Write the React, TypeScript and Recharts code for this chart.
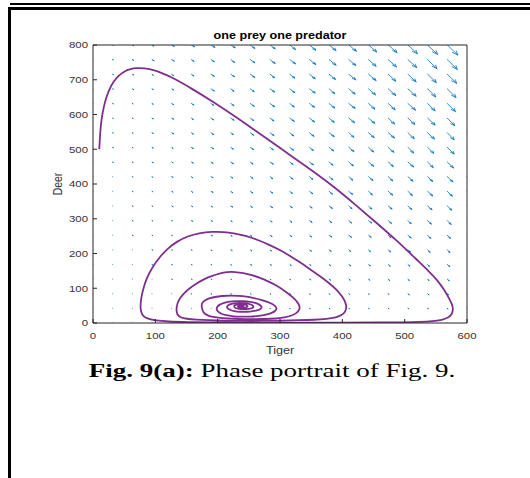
import React from 'react';
import { ComposedChart, Line, XAxis, YAxis, Label } from 'recharts';

// grid where the direction field is sampled
const TIGER_GRID = [0, 31.6, 63.2, 94.7, 126.3, 157.9, 189.5, 221.1, 252.6, 284.2, 315.8, 347.4, 378.9, 410.5, 442.1, 473.7, 505.3, 536.8, 568.4, 600];
const DEER_GRID = [0, 42.1, 84.2, 126.3, 168.4, 210.5, 252.6, 294.7, 336.8, 378.9, 421.1, 463.2, 505.3, 547.4, 589.5, 631.6, 673.7, 715.8, 757.9, 800];

// arrow growth in tigers, one row per DEER_GRID entry
const FLOW_TIGER = [
  [0, 0, 0, 0, 0, 0, 0, 0, 0, 0, 0, 0, 0, 0, 0, 0, 0, 0, 0, 0],
  [0, 0, 0, 0, 0, 0, 0, 0, 0, 0, 0, 1, 1, 1, 1, 1, 1, 1, 1, 1],
  [0, 0, 0, 0, 0, 0, 1, 1, 1, 1, 1, 1, 1, 1, 1, 1, 2, 2, 2, 2],
  [0, 0, 0, 0, 1, 1, 1, 1, 1, 1, 1, 2, 2, 2, 2, 2, 2, 2, 3, 3],
  [0, 0, 0, 1, 1, 1, 1, 1, 2, 2, 2, 2, 2, 3, 3, 3, 3, 3, 4, 4],
  [0, 0, 0, 1, 1, 1, 1, 2, 2, 2, 2, 3, 3, 3, 3, 4, 4, 4, 4, 5],
  [0, 0, 1, 1, 1, 1, 2, 2, 2, 3, 3, 3, 4, 4, 4, 4, 5, 5, 5, 6],
  [0, 0, 1, 1, 1, 2, 2, 2, 3, 3, 3, 4, 4, 4, 5, 5, 5, 6, 6, 7],
  [0, 0, 1, 1, 2, 2, 2, 3, 3, 4, 4, 4, 5, 5, 5, 6, 6, 7, 7, 7],
  [0, 0, 1, 1, 2, 2, 3, 3, 4, 4, 4, 5, 5, 6, 6, 7, 7, 8, 8, 8],
  [0, 0, 1, 1, 2, 2, 3, 3, 4, 4, 5, 5, 6, 6, 7, 7, 8, 8, 9, 9],
  [0, 1, 1, 2, 2, 3, 3, 4, 4, 5, 5, 6, 6, 7, 8, 8, 9, 9, 10, 10],
  [0, 1, 1, 2, 2, 3, 4, 4, 5, 5, 6, 6, 7, 8, 8, 9, 9, 10, 11, 11],
  [0, 1, 1, 2, 3, 3, 4, 4, 5, 6, 6, 7, 8, 8, 9, 10, 10, 11, 11, 12],
  [0, 1, 1, 2, 3, 3, 4, 5, 5, 6, 7, 8, 8, 9, 10, 10, 11, 12, 12, 13],
  [0, 1, 1, 2, 3, 4, 4, 5, 6, 7, 7, 8, 9, 10, 10, 11, 12, 12, 13, 14],
  [0, 1, 2, 2, 3, 4, 5, 5, 6, 7, 8, 9, 9, 10, 11, 12, 13, 13, 14, 15],
  [0, 1, 2, 2, 3, 4, 5, 6, 7, 7, 8, 9, 10, 11, 12, 12, 13, 14, 15, 16],
  [0, 1, 2, 3, 4, 4, 5, 6, 7, 8, 9, 10, 11, 11, 12, 13, 14, 15, 16, 17],
  [0, 1, 2, 3, 4, 5, 6, 7, 7, 8, 9, 10, 11, 12, 13, 14, 15, 16, 17, 18],
];

// arrow drop in deer, same layout
const FLOW_DEER_DROP = [
  [0, 0, 0, 0, 0, 0, 0, 0, 0, 0, 0, 0, 0, 0, 0, 0, 0, 0, 0, 0],
  [0, 0, 0, 0, 0, 0, 0, 0, 1, 1, 1, 1, 1, 1, 1, 1, 1, 1, 2, 2],
  [0, 0, 0, 0, 0, 1, 1, 1, 1, 1, 1, 2, 2, 2, 2, 2, 3, 3, 3, 3],
  [0, 0, 0, 0, 1, 1, 1, 1, 2, 2, 2, 2, 3, 3, 3, 4, 4, 4, 5, 5],
  [0, 0, 0, 1, 1, 1, 1, 2, 2, 2, 3, 3, 3, 4, 4, 5, 5, 6, 6, 7],
  [0, 0, 0, 1, 1, 1, 2, 2, 3, 3, 3, 4, 4, 5, 5, 6, 6, 7, 8, 8],
  [0, 0, 1, 1, 1, 2, 2, 3, 3, 4, 4, 5, 5, 6, 6, 7, 8, 9, 9, 10],
  [0, 0, 1, 1, 1, 2, 2, 3, 4, 4, 5, 5, 6, 7, 7, 8, 9, 10, 11, 12],
  [0, 0, 1, 1, 2, 2, 3, 3, 4, 5, 5, 6, 7, 8, 9, 9, 10, 11, 12, 13],
  [0, 0, 1, 1, 2, 3, 3, 4, 5, 5, 6, 7, 8, 9, 10, 11, 12, 13, 14, 15],
  [0, 0, 1, 2, 2, 3, 3, 4, 5, 6, 7, 8, 9, 10, 11, 12, 13, 14, 15, 17],
  [0, 1, 1, 2, 2, 3, 4, 5, 6, 6, 7, 8, 9, 11, 12, 13, 14, 16, 17, 18],
  [0, 1, 1, 2, 3, 3, 4, 5, 6, 7, 8, 9, 10, 12, 13, 14, 16, 17, 19, 20],
  [0, 1, 1, 2, 3, 4, 5, 5, 7, 8, 9, 10, 11, 13, 14, 15, 17, 18, 20, 22],
  [0, 1, 1, 2, 3, 4, 5, 6, 7, 8, 9, 11, 12, 13, 15, 17, 18, 20, 22, 23],
  [0, 1, 1, 2, 3, 4, 5, 6, 8, 9, 10, 11, 13, 14, 16, 18, 19, 21, 23, 25],
  [0, 1, 2, 2, 3, 4, 6, 7, 8, 9, 11, 12, 14, 15, 17, 19, 21, 23, 25, 27],
  [0, 1, 2, 3, 4, 5, 6, 7, 9, 10, 11, 13, 15, 16, 18, 20, 22, 24, 26, 28],
  [0, 1, 2, 3, 4, 5, 6, 8, 9, 11, 12, 14, 16, 17, 19, 21, 23, 26, 28, 30],
  [0, 1, 2, 3, 4, 5, 7, 8, 10, 11, 13, 15, 16, 18, 20, 22, 25, 27, 29, 32],
];

// one trajectory from (10, 500) spiralling into the coexistence point
const ORBIT: [number, number][] = [
  [10, 500], [11, 530], [12, 560], [14, 590], [17, 620], [21, 648], [26, 672], [33, 695], [41, 712], [50, 724],
  [60, 731], [70, 734], [82, 733], [95, 729], [110, 720], [128, 706], [160, 673], [193, 636], [225, 598], [257, 558],
  [289, 518], [320, 478], [353, 437], [388, 390], [423, 337], [455, 288], [487, 238], [520, 181], [540, 147], [552, 124],
  [563, 97], [570, 75], [576, 55], [578, 40], [576, 25], [570, 15], [560, 9], [545, 5], [525, 3], [500, 2],
  [460, 1.5], [400, 1], [330, 1], [260, 1], [200, 1.5], [150, 2.5], [120, 4], [100, 7], [88, 12], [80, 20],
  [77, 32], [76, 46], [77, 70], [80, 95], [86, 130], [95, 160], [107, 190], [120, 215], [135, 235], [152, 250],
  [170, 259], [191, 263], [210, 262], [225, 259], [245, 251], [263, 240], [282, 226], [300, 210], [316, 193], [332, 175],
  [348, 155], [364, 135], [378, 116], [391, 96], [400, 76], [405, 60], [407, 46], [405, 33], [400, 23], [390, 16],
  [375, 12], [355, 9], [330, 8], [300, 7], [270, 6.5], [240, 6.5], [210, 7], [185, 8], [165, 9.5], [150, 12],
  [140, 16], [135, 24], [134, 35], [134, 46], [136, 60], [140, 72], [146, 86], [155, 100], [166, 114], [178, 126],
  [190, 135], [203, 143], [215, 147], [228, 147], [241, 144], [255, 138], [268, 130], [280, 121], [292, 110], [303, 98],
  [313, 85], [322, 72], [328, 60], [332, 48], [331, 37], [327, 29], [320, 22], [310, 17], [295, 13], [275, 11.5],
  [255, 11], [235, 11.5], [215, 13], [200, 15], [190, 18], [182, 23], [177, 30], [175, 40], [174, 50], [175, 58],
  [179, 65], [186, 71], [195, 75], [207, 78], [220, 79], [233, 78], [246, 76], [258, 72], [270, 67], [280, 61],
  [288, 55], [293, 48], [295, 42], [293, 35], [287, 29], [278, 24], [266, 20], [252, 18], [238, 18], [225, 19],
  [213, 22], [205, 27], [200, 33], [198, 40], [199, 47], [203, 53], [210, 58], [219, 62], [230, 63], [242, 63],
  [252, 61], [261, 58], [267, 53], [271, 47], [270, 41], [265, 37], [257, 34], [247, 32], [236, 32], [226, 34],
  [219, 38], [215, 43], [215, 49], [219, 54], [226, 57], [235, 58], [244, 57], [251, 55], [256, 51], [258, 47],
  [256, 43], [250, 40], [242, 39], [234, 40], [228, 43], [226, 47], [227, 51], [232, 54], [238, 54], [244, 53],
  [248, 50], [248, 47], [245, 44], [240, 43], [235, 44], [232, 47], [233, 50], [237, 51], [241, 50], [242, 48],
  [240, 46], [237, 47], [236, 49], [238, 49.5], [239, 48.5], [238, 48],
];

const X_TICKS = [0, 100, 200, 300, 400, 500, 600];
const Y_TICKS = [0, 100, 200, 300, 400, 500, 600, 700, 800];

const SANS = '"Liberation Sans", Arial, Helvetica, sans-serif';
const INK = '#262626';
const STRETCH = 1.2;

// quiver shafts and heads, broken apart with null rows
const shafts: { x: number; y: number | null }[] = [];
const heads: { x: number; y: number | null }[] = [];
DEER_GRID.forEach((d, j) => {
  TIGER_GRID.forEach((t, i) => {
    const u = FLOW_TIGER[j][i];
    const v = -FLOW_DEER_DROP[j][i];
    shafts.push({ x: t, y: d }, { x: t + u, y: d + v }, { x: t, y: null });
    if (u !== 0 || v !== 0) {
      const a = 0.33;
      const b = 0.33;
      heads.push(
        { x: t + u - a * (u + b * v), y: d + v - a * (v - b * u) },
        { x: t + u, y: d + v },
        { x: t + u - a * (u - b * v), y: d + v - a * (v + b * u) },
        { x: t, y: null },
      );
    }
  });
});

const orbitData = ORBIT.map(([x, y]) => ({ x, y }));

function XTick(props: any) {
  const { x, y, payload } = props;
  return (
    <g transform={`translate(${x},${y}) scale(${STRETCH},1)`}>
      <text textAnchor="middle" dy="0.71em" fontSize={9.5} fontFamily={SANS} fill="#333">
        {payload.value}
      </text>
    </g>
  );
}

function YTick(props: any) {
  const { x, y, payload } = props;
  return (
    <g transform={`translate(${x},${y}) scale(${STRETCH},1)`}>
      <text textAnchor="end" dy="0.355em" fontSize={9.5} fontFamily={SANS} fill="#333">
        {payload.value}
      </text>
    </g>
  );
}

const titleLabel = (props: any) => {
  const vb = props.viewBox;
  return (
    <g transform={`translate(${vb.x + vb.width / 2},${vb.y - 5}) scale(${STRETCH},1)`}>
      <text textAnchor="middle" fontSize={10.5} fontWeight="bold" fontFamily={SANS} fill="#000">
        one prey one predator
      </text>
    </g>
  );
};

const tigerLabel = (props: any) => {
  const vb = props.viewBox;
  return (
    <g transform={`translate(${vb.x + vb.width / 2},${vb.y + vb.height + 1}) scale(${STRETCH},1)`}>
      <text textAnchor="middle" fontSize={10.5} fontFamily={SANS} fill="#333">
        Tiger
      </text>
    </g>
  );
};

const deerLabel = (props: any) => {
  const vb = props.viewBox;
  return (
    <g transform={`translate(${vb.x + 5},${vb.y + vb.height / 2}) scale(${STRETCH},1) rotate(-90)`}>
      <text textAnchor="middle" dy="0.355em" fontSize={10.5} fontFamily={SANS} fill="#333">
        Deer
      </text>
    </g>
  );
};

function PhasePortrait() {
  return (
    <ComposedChart width={530} height={478} margin={{ top: 44, right: 62, bottom: 125, left: 53 }}>
      <XAxis
        xAxisId="b"
        type="number"
        dataKey="x"
        domain={[0, 600]}
        ticks={X_TICKS}
        interval={0}
        allowDataOverflow
        height={30}
        tickSize={-4}
        tickMargin={13}
        stroke={INK}
        tick={<XTick />}
      >
        <Label content={tigerLabel} />
      </XAxis>
      <XAxis
        xAxisId="t"
        orientation="top"
        type="number"
        dataKey="x"
        domain={[0, 600]}
        ticks={X_TICKS}
        interval={0}
        allowDataOverflow
        height={1}
        tickSize={-4}
        stroke={INK}
        tick={false}
      >
        <Label content={titleLabel} />
      </XAxis>
      <YAxis
        yAxisId="l"
        type="number"
        domain={[0, 800]}
        ticks={Y_TICKS}
        interval={0}
        allowDataOverflow
        width={40}
        tickSize={-4}
        tickMargin={9}
        stroke={INK}
        tick={<YTick />}
      >
        <Label content={deerLabel} />
      </YAxis>
      <YAxis
        yAxisId="r"
        orientation="right"
        type="number"
        domain={[0, 800]}
        ticks={Y_TICKS}
        interval={0}
        allowDataOverflow
        width={1}
        tickSize={-4}
        stroke={INK}
        tick={false}
      />
      <Line
        xAxisId="b"
        yAxisId="l"
        data={shafts}
        dataKey="y"
        stroke="#0072BD"
        strokeWidth={0.8}
        strokeLinecap="round"
        dot={false}
        activeDot={false}
        connectNulls={false}
        isAnimationActive={false}
      />
      <Line
        xAxisId="b"
        yAxisId="l"
        data={heads}
        dataKey="y"
        stroke="#0072BD"
        strokeWidth={0.8}
        strokeLinecap="round"
        dot={false}
        activeDot={false}
        connectNulls={false}
        isAnimationActive={false}
      />
      <Line
        xAxisId="b"
        yAxisId="l"
        data={orbitData}
        dataKey="y"
        type="basis"
        stroke="#7E2F8E"
        strokeWidth={1.8}
        dot={false}
        activeDot={false}
        isAnimationActive={false}
      />
    </ComposedChart>
  );
}

export default function App() {
  return (
    <div style={{ position: 'absolute', left: 0, top: 0, width: 530, height: 478, background: '#fff', overflow: 'hidden' }}>
      <div style={{ position: 'absolute', left: 10, top: 3, width: 520, height: 2, background: '#000' }} />
      <div style={{ position: 'absolute', left: 8, top: 7, width: 522, height: 3, background: '#000' }} />
      <div style={{ position: 'absolute', left: 8, top: 7, width: 3, height: 471, background: '#000' }} />
      <div style={{ position: 'absolute', left: 0, top: 0 }}>
        <PhasePortrait />
      </div>
      <svg width={530} height={478} style={{ position: 'absolute', left: 0, top: 0, pointerEvents: 'none' }}>
        <g transform="translate(272,377) scale(1.42,1)">
          <text textAnchor="middle" fontSize={19} fontFamily={'"Liberation Serif", "Times New Roman", serif'} fill="#000">
            <tspan fontWeight="bold">Fig. 9(a):</tspan>
            <tspan> Phase portrait of Fig. 9.</tspan>
          </text>
        </g>
      </svg>
    </div>
  );
}
